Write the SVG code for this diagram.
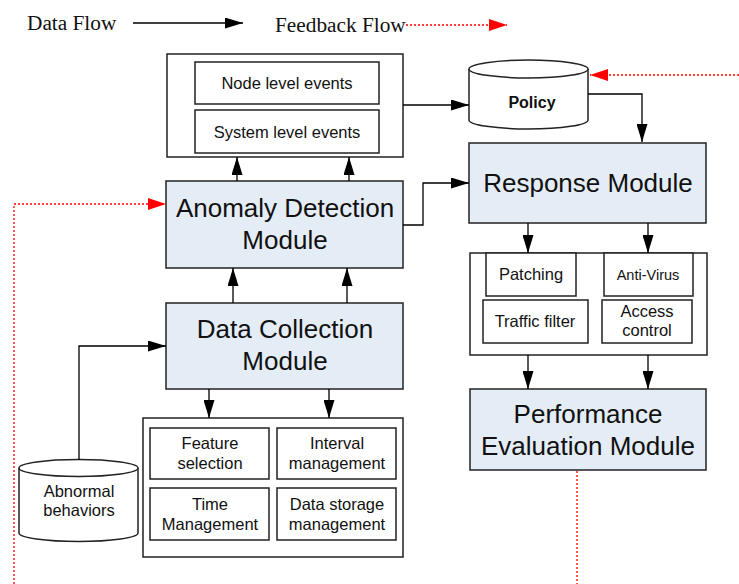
<svg xmlns="http://www.w3.org/2000/svg" width="739" height="584" viewBox="0 0 739 584">
<defs>
<style>
.box{fill:#fff;stroke:#222;stroke-width:1.5}
.mod{fill:#e4ecf6;stroke:#222;stroke-width:1.5}
.ln{fill:none;stroke:#000;stroke-width:1.3}
.fb{fill:none;stroke:#f00;stroke-width:1.3;stroke-dasharray:2 2}
.t{font-family:"Liberation Sans",Arial,sans-serif;fill:#111;text-anchor:middle}
.big{font-size:26px}
.sm{font-size:16.5px}
.leg{font-family:"Liberation Serif","Times New Roman",serif;font-size:21.3px;fill:#111}
</style>
<marker id="abl" viewBox="0 0 18 11" refX="18" refY="5.5" markerWidth="18" markerHeight="11" markerUnits="userSpaceOnUse" orient="auto"><path d="M0,0 L18,5.5 L0,11 z" fill="#000"/></marker>
<marker id="ar" viewBox="0 0 18 12" refX="18" refY="6" markerWidth="18" markerHeight="12" markerUnits="userSpaceOnUse" orient="auto"><path d="M0,0 L18,6 L0,12 z" fill="#f00"/></marker>
</defs>
<rect width="739" height="584" fill="#fff"/>

<g id="legend">
<text class="leg" x="27" y="30">Data Flow</text>
<line x1="133" y1="23" x2="243" y2="23" stroke="#000" stroke-width="1.3" marker-end="url(#abl)"/>
<text class="leg" x="275" y="32">Feedback Flow</text>
<line x1="406" y1="25" x2="507" y2="25" class="fb" marker-end="url(#ar)"/>
</g>

<g id="events">
<rect class="box" x="167" y="54" width="236" height="103"/>
<rect class="box" x="195" y="62" width="184" height="42"/>
<text class="t sm" x="287" y="89">Node level events</text>
<rect class="box" x="195" y="110" width="184" height="43"/>
<text class="t sm" x="287" y="138">System level events</text>
</g>

<g id="policy">
<path class="box" d="M469,69 L469,120 A59.5,9 0 0 0 588,120 L588,69"/>
<ellipse class="box" cx="528.5" cy="69" rx="59.5" ry="9"/>
<text class="t" x="532" y="108" font-size="16" font-weight="bold">Policy</text>
</g>

<g id="response">
<rect class="mod" x="469" y="143" width="237" height="80"/>
<text class="t big" x="588" y="192">Response Module</text>
</g>

<g id="anomaly">
<rect class="mod" x="166" y="181" width="237" height="87"/>
<text class="t big" x="285" y="217">Anomaly Detection</text>
<text class="t big" x="285" y="249">Module</text>
</g>

<g id="actions">
<rect class="box" x="470" y="253" width="237" height="102"/>
<rect class="box" x="486" y="253" width="90" height="43"/>
<text class="t sm" x="531" y="280">Patching</text>
<rect class="box" x="604" y="253" width="89" height="43"/>
<text class="t" x="648" y="280" font-size="14.5">Anti-Virus</text>
<rect class="box" x="483" y="300" width="105" height="43"/>
<text class="t sm" x="535" y="327">Traffic filter</text>
<rect class="box" x="602" y="300" width="90" height="43"/>
<text class="t sm" x="647" y="317">Access</text>
<text class="t sm" x="647" y="336">control</text>
</g>

<g id="datacollection">
<rect class="mod" x="166" y="303" width="237" height="86"/>
<text class="t big" x="285" y="338">Data Collection</text>
<text class="t big" x="285" y="370">Module</text>
</g>

<g id="performance">
<rect class="mod" x="470" y="389" width="236" height="81"/>
<text class="t big" x="588" y="423">Performance</text>
<text class="t big" x="588" y="455">Evaluation Module</text>
</g>

<g id="collectionfunctions">
<rect class="box" x="143" y="418" width="260" height="139"/>
<rect class="box" x="150" y="428" width="119" height="51"/>
<text class="t sm" x="210" y="449">Feature</text>
<text class="t sm" x="210" y="469">selection</text>
<rect class="box" x="277" y="428" width="119" height="51"/>
<text class="t sm" x="337" y="449">Interval</text>
<text class="t sm" x="337" y="469">management</text>
<rect class="box" x="150" y="488" width="119" height="52"/>
<text class="t sm" x="210" y="510">Time</text>
<text class="t sm" x="210" y="530">Management</text>
<rect class="box" x="277" y="488" width="119" height="52"/>
<text class="t sm" x="337" y="510">Data storage</text>
<text class="t sm" x="337" y="530">management</text>
</g>

<g id="abnormal">
<path class="box" d="M19,468 L19,533 A59.5,8.5 0 0 0 138,533 L138,468"/>
<ellipse class="box" cx="78.5" cy="468" rx="59.5" ry="8.5"/>
<text class="t sm" x="79" y="497">Abnormal</text>
<text class="t sm" x="79" y="516">behaviors</text>
</g>

<g id="connectors">
<path class="ln" d="M403,105 L469,105" marker-end="url(#abl)"/>
<path class="ln" d="M588,94 L642,94 L642,142" marker-end="url(#abl)"/>
<path class="ln" d="M403,225 L423,225 L423,183 L469,183" marker-end="url(#abl)"/>
<path class="ln" d="M237,181 L237,157" marker-end="url(#abl)"/>
<path class="ln" d="M349,181 L349,157" marker-end="url(#abl)"/>
<path class="ln" d="M233,303 L233,268" marker-end="url(#abl)"/>
<path class="ln" d="M347,303 L347,268" marker-end="url(#abl)"/>
<path class="ln" d="M79,460 L79,346 L166,346" marker-end="url(#abl)"/>
<path class="ln" d="M209,389 L209,418" marker-end="url(#abl)"/>
<path class="ln" d="M329,389 L329,418" marker-end="url(#abl)"/>
<path class="ln" d="M528,223 L528,253" marker-end="url(#abl)"/>
<path class="ln" d="M648,223 L648,253" marker-end="url(#abl)"/>
<path class="ln" d="M528,355 L528,389" marker-end="url(#abl)"/>
<path class="ln" d="M648,355 L648,389" marker-end="url(#abl)"/>
<path class="fb" d="M739,75 L590,75" marker-end="url(#ar)"/>
<path class="fb" d="M14,584 L14,204 L166,204" marker-end="url(#ar)"/>
<path class="fb" d="M577,471 L577,584"/>
</g>
</svg>
